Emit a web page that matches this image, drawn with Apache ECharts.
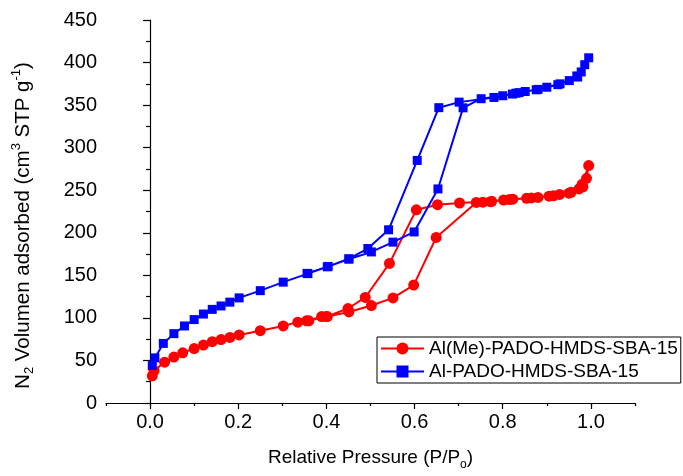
<!DOCTYPE html>
<html>
<head>
<meta charset="utf-8">
<script src="https://cdn.jsdelivr.net/npm/echarts@6/dist/echarts.min.js"></script>
<style>html,body{margin:0;padding:0;background:#fff;}#c{width:683px;height:476px;}</style>
</head>
<body>
<div id="c"></div>
<script>
// Al(Me)-PADO-HMDS-SBA-15 : adsorption then desorption (path order)
const redP = [0.005,0.009,0.033,0.054,0.074,0.100,0.121,0.141,0.161,0.181,0.202,0.250,0.302,0.335,0.355,0.389,0.402,0.451,0.502,0.551,0.598,0.649,0.740,0.755,0.772,0.802,0.823,0.854,0.880,0.905,0.929,0.950,0.973,0.982,0.990,0.995,
              0.980,0.955,0.915,0.865,0.815,0.775,0.702,0.652,0.604,0.543,0.488,0.449,0.400,0.360];
const redV = [32,38,48,54,59,64,68,72,74.5,77,80,85,90.5,95,96.5,101.5,101.5,107,114.5,123.5,138.5,194.5,235.7,236,236.5,238.5,239.5,240.5,241.5,243,245,246.5,251.5,254,264,279,
              257,247.5,243.5,241,239,237,235,233,227,164,124,111,101.5,96.5];
// Al-PADO-HMDS-SBA-15 : adsorption then desorption (path order)
const blueP = [0.005,0.011,0.030,0.054,0.078,0.100,0.121,0.141,0.161,0.181,0.202,0.250,0.302,0.358,0.402,0.451,0.502,0.551,0.599,0.653,0.710,0.751,0.800,0.822,0.837,0.851,0.876,0.900,0.925,0.951,0.968,0.978,0.986,0.995,
               0.970,0.930,0.880,0.830,0.780,0.701,0.655,0.606,0.541,0.494,0.451,0.404,0.356];
const blueV = [44,53,70,81.5,90.5,98,104.5,110,114,118.5,123.5,132,142,152,160,169,177.5,189,201,251.5,346.8,357.5,361,363,364.6,366,368,371,374,378.8,384.3,389,397.5,405.6,
               383,375,368.5,364,359,353.5,347,285,203.5,181.5,169.5,160.5,152.3];
const seriesNames = ['Al(Me)-PADO-HMDS-SBA-15','Al-PADO-HMDS-SBA-15'];
const xMajorTicks = [0.0,0.2,0.4,0.6,0.8,1.0];
const yTicks = [0,50,100,150,200,250,300,350,400,450];

const zip = (a,b)=>a.map((v,i)=>[v,b[i]]);
const FONT = 'Liberation Sans, Arial, sans-serif';
const chart = echarts.init(document.getElementById('c'), null, {renderer:'canvas'});
const axisLineStyle = {color:'#000', width:1.2};
chart.setOption({
  animation:false,
  backgroundColor:'#fff',
  textStyle:{fontFamily:FONT},
  grid:{left:106, right:48, top:20, bottom:67.5, containLabel:false},
  legend:{
    orient:'vertical', left:377, top:337,
    data:seriesNames,
    itemWidth:43, itemHeight:15, itemGap:4,
    padding:[2,3,2,3],
    borderColor:'#000', borderWidth:1, borderRadius:0,
    backgroundColor:'#fff',
    textStyle:{fontSize:19, color:'#000', fontFamily:FONT, lineHeight:19}
  },
  xAxis:[{
    type:'value', min:-0.1, max:1.1, interval:0.1,
    position:'bottom',
    axisLine:{show:true, onZero:false, lineStyle:axisLineStyle},
    axisTick:{show:true, inside:false, length:3, lineStyle:axisLineStyle},
    splitLine:{show:false},
    axisLabel:{fontSize:20, color:'#000', fontFamily:FONT, margin:9,
      formatter:function(v){const k=Math.round(v*10); return (k%2===0 && k>=0 && k<=10)? (k/10).toFixed(1):'';}},
    name:'{n|Relative Pressure (P/P}{s|o}{n|)}',
    nameLocation:'middle', nameGap:42,
    nameTextStyle:{rich:{
      n:{fontSize:19, color:'#000', fontFamily:FONT, lineHeight:26, verticalAlign:'middle'},
      s:{fontSize:12, color:'#000', fontFamily:FONT, lineHeight:26, verticalAlign:'bottom'}
    }}
  },{
    type:'value', min:-0.1, max:1.1,
    position:'bottom',
    axisLine:{show:false},
    axisLabel:{show:false},
    splitLine:{show:false},
    axisTick:{show:true, length:6, customValues:xMajorTicks, lineStyle:axisLineStyle}
  }],
  yAxis:{
    type:'value', min:0, max:450, interval:50,
    axisLine:{show:true, lineStyle:axisLineStyle},
    axisTick:{show:true, length:7, lineStyle:axisLineStyle},
    minorTick:{show:true, splitNumber:2, length:4, lineStyle:axisLineStyle},
    splitLine:{show:false},
    axisLabel:{fontSize:20, color:'#000', fontFamily:FONT, margin:9,
      customValues:yTicks},
    name:'{n|N}{s|2}{n| Volumen adsorbed (cm}{p|3}{n| STP g}{p|-1}{n|)}',
    nameLocation:'middle', nameGap:70,
    nameTextStyle:{padding:[0,28,0,0], rich:{
      n:{fontSize:20.5, color:'#000', fontFamily:FONT, lineHeight:26, verticalAlign:'middle'},
      s:{fontSize:13, color:'#000', fontFamily:FONT, lineHeight:26, verticalAlign:'bottom'},
      p:{fontSize:13, color:'#000', fontFamily:FONT, lineHeight:26, verticalAlign:'top'}
    }}
  },
  series:[{
    name:seriesNames[0], type:'line', xAxisIndex:0,
    data:zip(redP, redV),
    symbol:'circle', symbolSize:11,
    lineStyle:{color:'#ff0000', width:2},
    itemStyle:{color:'#ff0000'},
    z:2
  },{
    name:seriesNames[1], type:'line', xAxisIndex:0,
    data:zip(blueP, blueV),
    symbol:'rect', symbolSize:9,
    lineStyle:{color:'#0000ff', width:2},
    itemStyle:{color:'#0000ff'},
    z:3
  }]
});
</script>
</body>
</html>
